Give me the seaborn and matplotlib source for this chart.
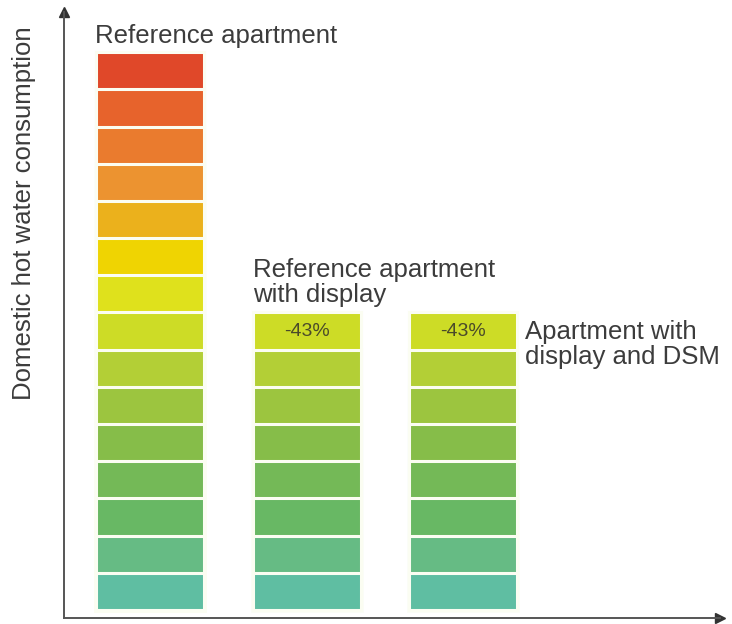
import seaborn as sns
import numpy as np
import matplotlib.pyplot as plt
import pandas as pd

# data
apartments = ["Reference apartment", "Reference apartment\nwith display", "Apartment with\ndisplay and DSM"]
segments = [15, 8, 8]  # consumption, in blocks
reduction = ["", "-43%", "-43%"]
# block colours, from bottom to top
block_colors = ["#5fbea2", "#66bb84", "#68b864", "#74b957", "#86bd49",
                "#9cc53f", "#b3cf36", "#cddc26", "#dfe11c", "#efd402",
                "#ebb11c", "#ec9330", "#ea7b2e", "#e7632c", "#e04829"]

sns.set_style("white")
plt.rcParams['font.family'] = ['Liberation Sans', 'DejaVu Sans']
txt_color = "#3c3c3c"

rows = []
for name, n in zip(apartments, segments):
    for k in range(1, n + 1):
        rows.append({"apartment": name, "level": k})
df = pd.DataFrame(rows)

fig = plt.figure(figsize=(7.32, 6.24), dpi=100)
ax = fig.add_axes([64 / 732, 6 / 624, (720 - 64) / 732, (618 - 12) / 624])

bar_w = 0.69
# draw from the highest level down, so each lower block covers the one above
for k in range(max(segments), 0, -1):
    sub = df[df["level"] == k]
    sns.barplot(data=sub, x="apartment", y="level", order=apartments,
                color=block_colors[k - 1], saturation=1, width=bar_w,
                edgecolor="#fbfdf2", linewidth=2.2, errorbar=None, ax=ax)

ax.set_xlim(-0.55, 3.64)
ax.set_ylim(-0.215, 16.08)
ax.set_xticks([])
ax.set_yticks([])
ax.set_xlabel("")
ax.set_ylabel("")
sns.despine(ax=ax)
for s in ["left", "bottom"]:
    ax.spines[s].set_color("#555555")
    ax.spines[s].set_linewidth(1.4)
ax.plot(1, 0, ">", color="#333333", ms=7, transform=ax.transAxes, clip_on=False)
ax.plot(0, 1, "^", color="#333333", ms=7, transform=ax.transAxes, clip_on=False)

fig.text(24 / 732, 1 - 213 / 624, "Domestic hot water consumption", rotation=90,
         ha="center", va="center", fontsize=18.5, color=txt_color)

# labels
fs = 18.5
ax.text(0 - bar_w / 2 - 0.01, segments[0] + 0.12, apartments[0], ha="left", va="bottom",
        fontsize=fs, color=txt_color)
ax.text(1 - bar_w / 2, segments[1] + 0.15, apartments[1], ha="left", va="bottom",
        fontsize=fs, color=txt_color, linespacing=1.05)
ax.text(2 + bar_w / 2 + 0.05, segments[2] - 0.85, apartments[2], ha="left", va="center",
        fontsize=fs, color=txt_color, linespacing=1.05)
for i in (1, 2):
    ax.text(i, segments[i] - 0.5, reduction[i], ha="center", va="center",
            fontsize=14, color="#4a4a2a")

fig.savefig("out.png", dpi=100)
plt.close()
